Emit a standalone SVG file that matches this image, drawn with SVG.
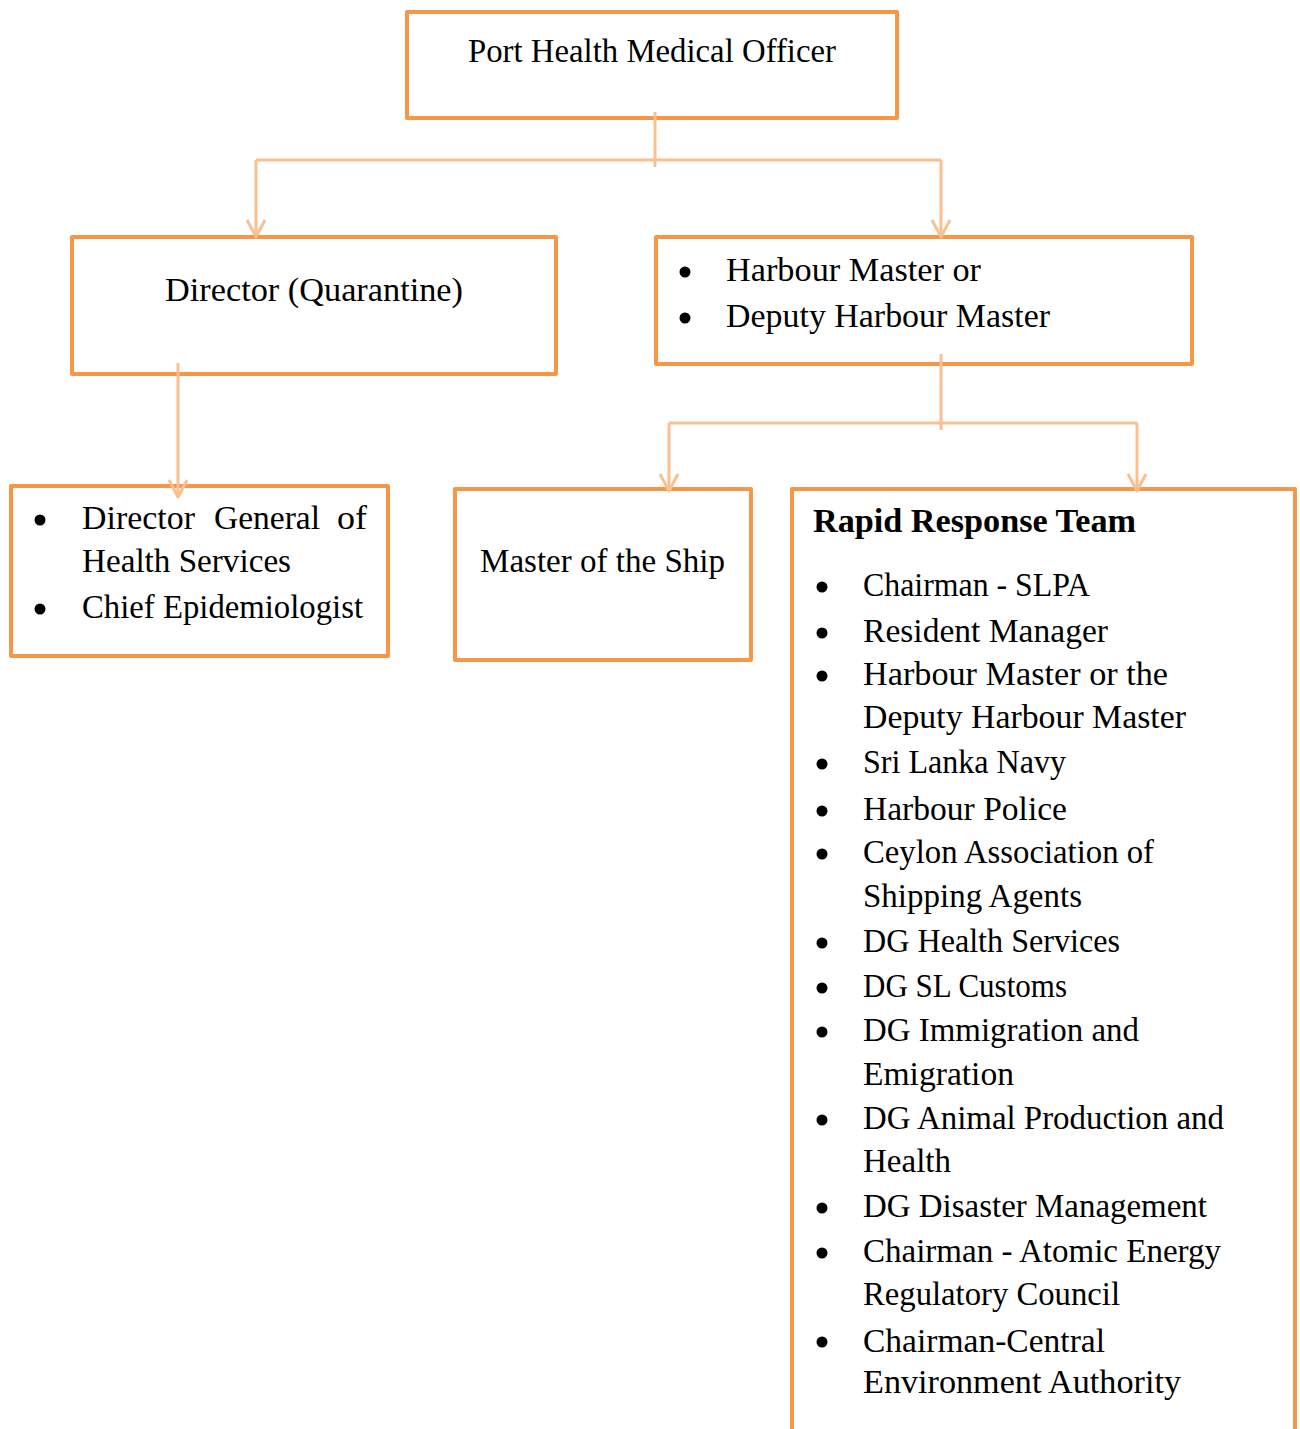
<svg xmlns="http://www.w3.org/2000/svg" width="1300" height="1429" viewBox="0 0 1300 1429">
<style>
.box{fill:#ffffff;stroke:#F79646;stroke-width:4;stroke-linejoin:round}
.con{fill:none;stroke:#FAC08F;stroke-width:3}
.t{font-family:"Liberation Serif","DejaVu Serif",serif;font-size:34px;fill:#000}
.b{font-weight:bold}
.dot{fill:#000}
</style>
<defs>
<marker id="arr" markerUnits="userSpaceOnUse" viewBox="-22 -14 26 28" markerWidth="26" markerHeight="28" refX="0" refY="0" orient="auto" overflow="visible">
<path d="M -17 -9 L 0 0 L -17 9" fill="none" stroke="#FAC08F" stroke-width="3" stroke-linejoin="round"/>
</marker>
</defs>
<rect width="1300" height="1429" fill="#ffffff"/>

<g id="node-phmo">
<rect class="box" x="407" y="12" width="490" height="106"/>
<text class="t" x="468" y="62" textLength="368" lengthAdjust="spacingAndGlyphs">Port Health Medical Officer</text>
</g>

<g id="node-director-q">
<rect class="box" x="72" y="237" width="484" height="137"/>
<text class="t" x="165" y="301" textLength="298" lengthAdjust="spacingAndGlyphs">Director (Quarantine)</text>
</g>

<g id="node-harbour">
<rect class="box" x="656" y="237" width="536" height="127"/>
<circle class="dot" cx="685" cy="272" r="5.5"/>
<text class="t" x="726" y="281" textLength="255" lengthAdjust="spacingAndGlyphs">Harbour Master or</text>
<circle class="dot" cx="685" cy="318" r="5.5"/>
<text class="t" x="726" y="327" textLength="324" lengthAdjust="spacingAndGlyphs">Deputy Harbour Master</text>
</g>

<g id="node-dg">
<rect class="box" x="11" y="486" width="377" height="170"/>
<circle class="dot" cx="40" cy="520" r="5.5"/>
<text class="t" x="82" y="529" textLength="113" lengthAdjust="spacingAndGlyphs">Director</text>
<text class="t" x="214" y="529" textLength="106" lengthAdjust="spacingAndGlyphs">General</text>
<text class="t" x="337" y="529" textLength="30" lengthAdjust="spacingAndGlyphs">of</text>
<text class="t" x="82" y="572" textLength="209" lengthAdjust="spacingAndGlyphs">Health Services</text>
<circle class="dot" cx="40" cy="609" r="5.5"/>
<text class="t" x="82" y="618" textLength="281" lengthAdjust="spacingAndGlyphs">Chief Epidemiologist</text>
</g>

<g id="node-master">
<rect class="box" x="455" y="489" width="296" height="171"/>
<text class="t" x="480" y="572" textLength="245" lengthAdjust="spacingAndGlyphs">Master of the Ship</text>
</g>

<g id="node-rrt">
<path class="box" d="M 792 1440 L 792 489 L 1295 489 L 1295 1440"/>
<text class="t b" x="813" y="532" textLength="323" lengthAdjust="spacingAndGlyphs">Rapid Response Team</text>
<g>
<circle class="dot" cx="822" cy="587" r="5.5"/>
<text class="t" x="863" y="596" textLength="227" lengthAdjust="spacingAndGlyphs">Chairman - SLPA</text>
<circle class="dot" cx="822" cy="633" r="5.5"/>
<text class="t" x="863" y="642" textLength="245" lengthAdjust="spacingAndGlyphs">Resident Manager</text>
<circle class="dot" cx="822" cy="676" r="5.5"/>
<text class="t" x="863" y="685" textLength="305" lengthAdjust="spacingAndGlyphs">Harbour Master or the</text>
<text class="t" x="863" y="728" textLength="323" lengthAdjust="spacingAndGlyphs">Deputy Harbour Master</text>
<circle class="dot" cx="822" cy="764" r="5.5"/>
<text class="t" x="863" y="773" textLength="203" lengthAdjust="spacingAndGlyphs">Sri Lanka Navy</text>
<circle class="dot" cx="822" cy="811" r="5.5"/>
<text class="t" x="863" y="820" textLength="204" lengthAdjust="spacingAndGlyphs">Harbour Police</text>
<circle class="dot" cx="822" cy="854" r="5.5"/>
<text class="t" x="863" y="863" textLength="291" lengthAdjust="spacingAndGlyphs">Ceylon Association of</text>
<text class="t" x="863" y="907" textLength="219" lengthAdjust="spacingAndGlyphs">Shipping Agents</text>
<circle class="dot" cx="822" cy="943" r="5.5"/>
<text class="t" x="863" y="952" textLength="257" lengthAdjust="spacingAndGlyphs">DG Health Services</text>
<circle class="dot" cx="822" cy="988" r="5.5"/>
<text class="t" x="863" y="997" textLength="204" lengthAdjust="spacingAndGlyphs">DG SL Customs</text>
<circle class="dot" cx="822" cy="1032" r="5.5"/>
<text class="t" x="863" y="1041" textLength="276" lengthAdjust="spacingAndGlyphs">DG Immigration and</text>
<text class="t" x="863" y="1085" textLength="151" lengthAdjust="spacingAndGlyphs">Emigration</text>
<circle class="dot" cx="822" cy="1120" r="5.5"/>
<text class="t" x="863" y="1129" textLength="361" lengthAdjust="spacingAndGlyphs">DG Animal Production and</text>
<text class="t" x="863" y="1172" textLength="88" lengthAdjust="spacingAndGlyphs">Health</text>
<circle class="dot" cx="822" cy="1208" r="5.5"/>
<text class="t" x="863" y="1217" textLength="344" lengthAdjust="spacingAndGlyphs">DG Disaster Management</text>
<circle class="dot" cx="822" cy="1253" r="5.5"/>
<text class="t" x="863" y="1262" textLength="358" lengthAdjust="spacingAndGlyphs">Chairman - Atomic Energy</text>
<text class="t" x="863" y="1305" textLength="257" lengthAdjust="spacingAndGlyphs">Regulatory Council</text>
<circle class="dot" cx="822" cy="1342" r="5.5"/>
<text class="t" x="863" y="1352" textLength="242" lengthAdjust="spacingAndGlyphs">Chairman-Central</text>
<text class="t" x="863" y="1393" textLength="318" lengthAdjust="spacingAndGlyphs">Environment Authority</text>
</g>
</g>

<g id="connectors">
<line class="con" x1="655" y1="112" x2="655" y2="167"/>
<line class="con" x1="256" y1="160" x2="941" y2="160"/>
<line class="con" x1="256" y1="160" x2="256" y2="237" marker-end="url(#arr)"/>
<line class="con" x1="941" y1="160" x2="941" y2="237" marker-end="url(#arr)"/>
<line class="con" x1="178" y1="363" x2="178" y2="497" marker-end="url(#arr)"/>
<line class="con" x1="941" y1="354" x2="941" y2="430"/>
<line class="con" x1="669" y1="423" x2="1137" y2="423"/>
<line class="con" x1="669" y1="423" x2="669" y2="491" marker-end="url(#arr)"/>
<line class="con" x1="1137" y1="423" x2="1137" y2="491" marker-end="url(#arr)"/>
</g>
</svg>
